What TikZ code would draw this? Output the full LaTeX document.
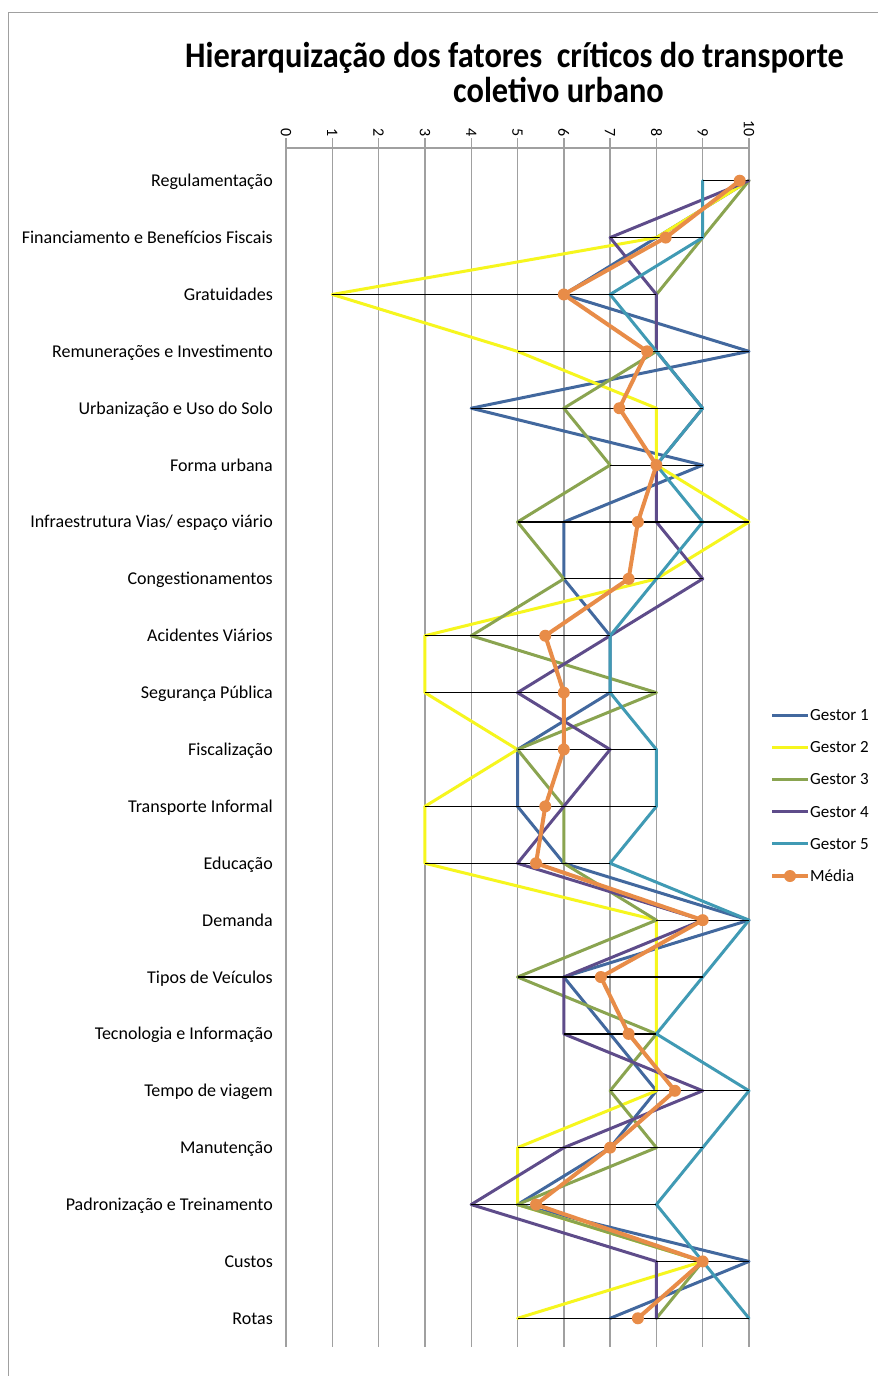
\documentclass[tikz,border=0pt]{standalone}
\usepackage{fontspec}
\setmainfont{Carlito}
\newfontfamily\titlefont[FakeStretch=0.9]{Carlito}

\definecolor{cOne}{RGB}{66,104,158}
\definecolor{cTwo}{RGB}{246,246,30}
\definecolor{cThree}{RGB}{138,164,80}
\definecolor{cFour}{RGB}{94,76,138}
\definecolor{cFive}{RGB}{64,154,180}
\definecolor{cMean}{RGB}{232,140,72}
\definecolor{gridgray}{RGB}{160,160,160}

\tikzset{
  gridline/.style={gridgray, line width=1.4pt},
  serie/.style={line width=3pt, line join=round, line cap=round},
  hilo/.style={black, line width=1.2pt},
  meanline/.style={cMean, line width=4pt, line join=round, line cap=round},
  meandot/.style={circle, fill=cMean, minimum size=12pt, inner sep=0pt},
  catlabel/.style={anchor=base east, inner sep=0pt, font=\fontsize{18}{20}\selectfont},
  leglabel/.style={anchor=base west, inner sep=0pt, font=\fontsize{17}{19}\selectfont},
  ticklabel/.style={rotate=-90, anchor=east, inner sep=0pt, font=\fontsize{16}{18}\selectfont},
  titletext/.style={anchor=base, inner sep=0pt, font=\titlefont\bfseries\fontsize{36}{40}\selectfont}
}

\begin{document}
\begin{tikzpicture}[x=1pt, y=-1pt]
\useasboundingbox (0,0) rectangle (878,1376);
\fill[white] (0,0) rectangle (878,1376);
% outer frame of the chart area
\draw[gridgray, line width=1.5pt] (8.5,1376) -- (8.5,12.5) -- (878,12.5);

% title
\node[titletext] (title1) at (514.5,67.7) {Hierarquização dos fatores\ \ críticos do transporte};
\node[titletext] (title2) at (558.5,102.7) {coletivo urbano};

% category labels
\foreach \lab [count=\r from 0] in {Regulamentação, Financiamento e Benefícios Fiscais, Gratuidades,
  Remunerações e Investimento, Urbanização e Uso do Solo, Forma urbana,
  Infraestrutura Vias/ espaço viário, Congestionamentos, Acidentes Viários,
  Segurança Pública, Fiscalização, Transporte Informal, Educação, Demanda,
  Tipos de Veículos, Tecnologia e Informação, Tempo de viagem, Manutenção,
  Padronização e Treinamento, Custos, Rotas}
  \node[catlabel] (cat\r) at (273,{180.7+56.88*\r+6}) {\lab};

% value axis labels
\foreach \k in {0,...,10}
  \node[ticklabel] (tick\k) at ({286+46.3*\k},136.5) {\k};

\begin{scope}[shift={(286,180.7)}, x=46.3pt, y=-56.88pt]
  % vertical grid, axis line and ticks
  \foreach \k in {0,...,10} {
    \draw[gridline] (\k,-0.75) -- (\k,20.505);
  }
  \draw[gridline] (0,-0.575) -- (10,-0.575);

  % managers' scores
  \draw[serie, cOne] (10,0) \foreach \v [count=\r] in {8,6,10,4,9,6,6,7,7,5,5,6,10,6,7,8,7,5,10,7} { -- (\v,\r) };
  \draw[serie, cTwo] (10,0) \foreach \v [count=\r] in {8,1,5,8,8,10,8,3,3,5,3,3,8,8,8,8,5,5,9,5} { -- (\v,\r) };
  \draw[serie, cThree] (10,0) \foreach \v [count=\r] in {9,8,8,6,7,5,6,4,8,5,6,6,8,5,8,7,8,5,9,8} { -- (\v,\r) };
  \draw[serie, cFour] (10,0) \foreach \v [count=\r] in {7,8,8,9,8,8,9,7,5,7,6,5,9,6,6,9,6,4,8,8} { -- (\v,\r) };
  \draw[serie, cFive] (9,0) \foreach \v [count=\r] in {9,7,8,9,8,9,8,7,7,8,8,7,10,9,8,10,9,8,9,10} { -- (\v,\r) };

  % high-low lines
  \foreach \lo/\hi [count=\r from 0] in {9/10,7/9,1/8,5/10,4/9,7/9,5/10,6/9,3/7,3/8,5/8,3/8,3/7,8/10,5/9,6/8,7/10,5/9,4/8,8/10,5/10}
    \draw[hilo] (\lo,\r) -- (\hi,\r);

  % average
  \draw[meanline] (9.8,0) \foreach \v [count=\r] in {8.2,6,7.8,7.2,8,7.6,7.4,5.6,6,6,5.6,5.4,9,6.8,7.4,8.4,7,5.4,9,7.6} { -- (\v,\r) };
  \foreach \v [count=\r from 0] in {9.8,8.2,6,7.8,7.2,8,7.6,7.4,5.6,6,6,5.6,5.4,9,6.8,7.4,8.4,7,5.4,9,7.6}
    \node[meandot] (m\r) at (\v,\r) {};
\end{scope}

% legend
\foreach \c/\t [count=\i from 0] in {cOne/Gestor 1, cTwo/Gestor 2, cThree/Gestor 3, cFour/Gestor 4, cFive/Gestor 5} {
  \draw[serie, line cap=butt, \c] (772,{715+32.2*\i}) -- (808,{715+32.2*\i});
  \node[leglabel] (leg\i) at (810,{715+32.2*\i+5.5}) {\t};
}
\draw[meanline, line cap=butt] (772,876) -- (808,876);
\node[meandot] (legdot) at (790,876) {};
\node[leglabel] (legmean) at (810,881.5) {Média};
\end{tikzpicture}
\end{document}
